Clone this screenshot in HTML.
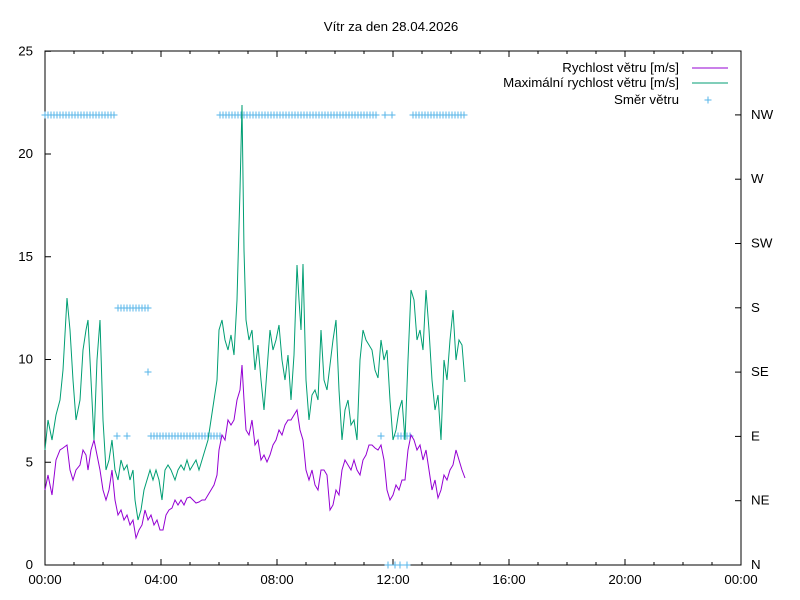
<!DOCTYPE html>
<html><head><meta charset="utf-8"><style>
body{margin:0;background:#fff}
svg{display:block;font-family:"Liberation Sans",sans-serif;font-size:13.3px}
</style></head><body>
<svg id="s" width="800" height="600" xmlns="http://www.w3.org/2000/svg">
<rect width="800" height="600" fill="#fff"/>
<text x="391" y="31" text-anchor="middle">Vítr za den 28.04.2026</text>
<rect x="45" y="51" width="696" height="514" fill="none" stroke="#000" stroke-width="1"/>
<g id="ticks" stroke="#000" stroke-width="1"></g>
<g id="lab"></g>
<text x="679" y="72" text-anchor="end">Rychlost větru [m/s]</text>
<line x1="692" y1="68" x2="728" y2="68" stroke="#9400d3"/>
<text x="679" y="87" text-anchor="end">Maximální rychlost větru [m/s]</text>
<line x1="692" y1="83" x2="728" y2="83" stroke="#009e73"/>
<text x="679" y="104" text-anchor="end">Směr větru</text>
<g id="dir" stroke="#56b4e9" stroke-width="1"></g>
<polyline id="g" fill="none" stroke="#009e73" stroke-width="1"/>
<polyline id="p" fill="none" stroke="#9400d3" stroke-width="1"/>
</svg>
<script>
var NS="http://www.w3.org/2000/svg";
function el(t,a,par,txt){var e=document.createElementNS(NS,t);for(var k in a)e.setAttribute(k,a[k]);if(txt)e.textContent=txt;document.getElementById(par).appendChild(e);return e;}
for(var i=0;i<=5;i++){var y=565-i*102.75;el("line",{x1:45,y1:y,x2:51,y2:y},"ticks");el("text",{x:33,y:y+4,"text-anchor":"end"},"lab",String(i*5));}
var d=["N","NE","E","SE","S","SW","W","NW"];
for(var i=0;i<8;i++){var y=565-i*64.3;el("line",{x1:735,y1:y,x2:741,y2:y},"ticks");el("text",{x:751,y:y+4},"lab",d[i]);}
for(var i=0;i<=24;i++){var x=45+i*29;var L=(i%4==0)?6:3;el("line",{x1:x,y1:565,x2:x,y2:565-L},"ticks");el("line",{x1:x,y1:51,x2:x,y2:51+L},"ticks");if(i%4==0){var h=i%24;el("text",{x:x,y:584,"text-anchor":"middle"},"lab",(h<10?"0":"")+h+":00");}}
var g=[45,450,48,420,52,440,56,415,60,400,63,370,67,298,70,330,73,380,76,420,80,400,83,350,86,330,88,320,91,380,94,440,97,360,100,320,103,420,106,470,109,460,112,440,115,470,118,480,121,460,124,470,127,465,130,480,133,470,135,500,138,520,141,510,144,490,147,480,150,470,153,480,156,470,159,480,162,500,165,470,168,465,171,470,175,480,178,470,181,465,184,470,187,460,190,470,193,465,196,460,199,470,202,460,205,450,208,440,211,420,214,400,217,380,219,330,222,320,225,340,228,350,231,335,234,355,237,300,240,190,242,105,244,250,246,320,249,340,252,330,255,370,258,345,261,380,264,410,267,370,270,330,273,350,276,340,279,325,282,360,285,380,288,355,291,400,294,355,297,265,299,300,301,330,303,264,306,380,309,420,312,395,315,390,318,400,321,330,324,380,327,390,330,365,333,340,336,320,339,390,342,440,345,410,348,400,351,425,354,420,357,440,360,360,363,330,366,340,369,345,372,350,375,370,378,378,381,340,384,360,387,350,390,400,393,440,396,430,399,410,402,400,405,440,408,360,411,290,414,300,417,340,420,330,423,350,426,290,429,330,432,380,435,410,438,395,441,440,444,360,447,380,450,340,453,310,456,360,459,340,462,345,465,382];
var p=[45,490,48,475,52,495,56,460,60,450,63,448,67,445,70,470,73,480,76,470,80,465,83,450,86,455,88,470,91,450,94,440,97,455,100,470,103,490,106,500,109,490,112,470,115,500,118,515,121,510,124,520,127,515,130,525,133,520,136,538,139,530,142,525,145,510,148,520,151,515,154,525,157,520,160,530,163,530,166,515,169,510,172,508,175,500,178,505,181,500,184,505,187,498,190,497,193,500,196,503,199,502,202,500,205,500,208,495,211,490,214,485,217,475,219,450,222,435,225,440,228,420,231,425,234,420,237,400,240,390,242,365,244,400,246,430,249,435,252,420,255,445,258,440,261,460,264,455,267,462,270,455,273,445,276,440,279,430,282,435,285,425,288,420,291,420,294,415,297,410,300,430,303,440,306,470,309,480,312,470,315,485,318,490,321,470,324,470,327,475,330,510,333,505,336,490,339,495,342,470,345,460,348,465,351,470,354,460,357,470,360,475,363,460,366,455,369,445,372,445,375,448,378,450,381,445,384,460,387,490,390,500,393,495,396,485,399,490,402,480,405,480,408,450,411,435,414,440,417,450,420,445,423,460,426,450,429,470,432,490,435,480,438,498,441,490,444,475,447,480,450,470,453,465,456,450,459,460,462,470,465,478];
function pts(a){var s="";for(var i=0;i<a.length;i+=2)s+=a[i]+","+a[i+1]+" ";return s;}
document.getElementById("g").setAttribute("points",pts(g));
document.getElementById("p").setAttribute("points",pts(p));
function plus(x,y){el("line",{x1:x-3.5,y1:y,x2:x+3.5,y2:y},"dir");el("line",{x1:x,y1:y-3.5,x2:x,y2:y+3.5},"dir");}
plus(708,100);
function row(a,b,y){for(var x=a;x<=b;x+=3)plus(x,y);}
row(45,115,115);row(220,378,115);plus(385,115);plus(392,115);row(413,465,115);
row(118,148,308);plus(148,372);
plus(117,436);plus(127,436);row(151,220,436);plus(381,436);row(398,410,436);
plus(388,565);plus(395,565);plus(400,565);plus(407,565);
</script>
</body></html>
